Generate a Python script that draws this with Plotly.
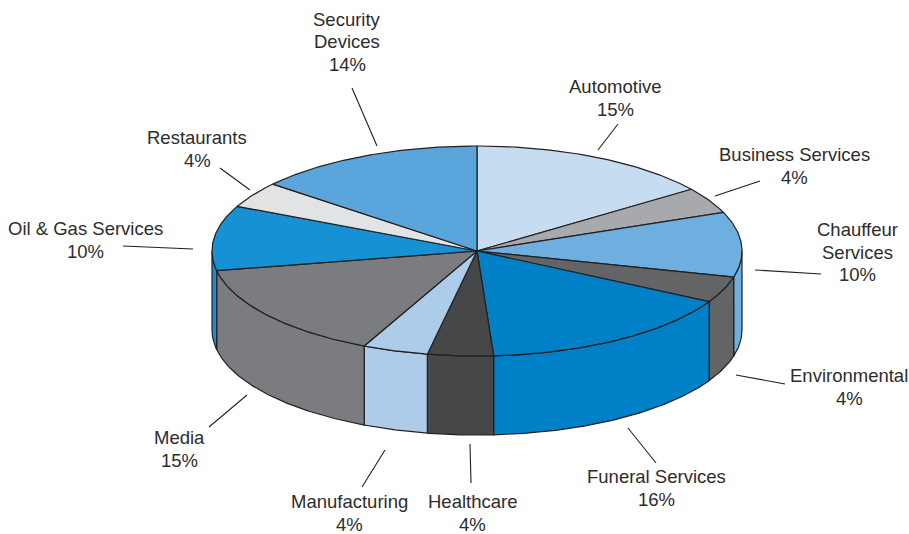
import numpy as np
import plotly.graph_objects as go

# Revenue share by sector, clockwise from twelve o'clock
sectors = ["Automotive", "Business Services", "Chauffeur<br>Services", "Environmental",
           "Funeral Services", "Healthcare", "Manufacturing", "Media",
           "Oil & Gas Services", "Restaurants", "Security<br>Devices"]
shares = [15, 4, 10, 4, 16, 4, 4, 15, 10, 4, 14]
colors = ["#c5dcf1", "#a7a9ac", "#6fafe0", "#636466", "#0080c6", "#464749",
          "#acccea", "#7a7c7f", "#1591d4", "#e1e3e5", "#5aa6dc"]

# Label anchors (centre of the text block) and leader line ends, in page pixels
label_xy = [(615, 98), (794, 166), (857, 252), (849, 387), (656, 488), (472, 513),
            (349, 513), (179, 449), (85, 240), (197, 149), (347, 41.5)]
leaders = [((598, 150), (618, 124)), ((715, 196), (760, 181)), ((755, 270), (821, 274)),
           ((736, 375), (785, 384)), ((628, 428), (656, 463)), ((470, 444), (471, 483)),
           ((385, 450), (362, 487)), ((247, 395), (209, 427)), ((193, 249), (123, 246)),
           ((250, 190), (220, 168)), ((377, 146), (352, 88))]

# Disc geometry: ellipse centre, radii and wall height
CX, CY, RX, RY, DEPTH = 477, 251, 265, 105, 79
INK = "#231f20"
LINE_PITCH = 22.5


def rim(a_deg, drop=0.0):
    """Rim points for clockwise angles measured from the top of the disc."""
    a = np.radians(a_deg)
    return CX + RX * np.sin(a), CY - RY * np.cos(a) + drop


def arc(start, end):
    return np.linspace(start, end, max(2, int(abs(end - start) * 2) + 1))


edges = np.concatenate([[0], np.cumsum(shares)]) * 3.6
fig = go.Figure()

# Side walls: only the part of each slice on the front half of the disc shows
for i, color in enumerate(colors):
    lo, hi = max(edges[i], 90), min(edges[i + 1], 270)
    if hi <= lo:
        continue
    a = arc(lo, hi)
    x1, y1 = rim(a)
    x2, y2 = rim(a[::-1], DEPTH)
    fig.add_trace(go.Scatter(
        x=np.r_[x1, x2, x1[0]], y=np.r_[y1, y2, y1[0]], mode="lines", fill="toself",
        fillcolor=color, line=dict(color=INK, width=1.2), hoverinfo="skip", showlegend=False))

# Top face
for i, color in enumerate(colors):
    x, y = rim(arc(edges[i], edges[i + 1]))
    fig.add_trace(go.Scatter(
        x=np.r_[CX, x, CX], y=np.r_[CY, y, CY], mode="lines", fill="toself",
        fillcolor=color, line=dict(color=INK, width=1.2),
        name=sectors[i].replace("<br>", " "), text=f"{shares[i]}%", hoverinfo="name+text",
        showlegend=False))

# Leader lines
lx, ly = [], []
for p, q in leaders:
    lx += [p[0], q[0], None]
    ly += [p[1], q[1], None]
fig.add_trace(go.Scatter(x=lx, y=ly, mode="lines", line=dict(color=INK, width=1.1),
                         hoverinfo="skip", showlegend=False))

# Each text row is its own annotation so the row pitch can be tighter than the default
for name, share, (x, y) in zip(sectors, shares, label_xy):
    rows = name.split("<br>") + [f"{share}%"]
    top = y - (len(rows) - 1) / 2 * LINE_PITCH
    for k, row in enumerate(rows):
        fig.add_annotation(x=x, y=top + k * LINE_PITCH, text=row, showarrow=False,
                           xanchor="center", yanchor="middle", align="center",
                           font=dict(family="Liberation Sans", size=18.5, color="#2d2c2d"))

fig.update_layout(
    width=909, height=534, margin=dict(l=0, r=0, t=0, b=0),
    paper_bgcolor="white", plot_bgcolor="white",
    xaxis=dict(range=[0, 909], visible=False, fixedrange=True),
    yaxis=dict(range=[534, 0], visible=False, fixedrange=True),
)
fig.write_html("out.html", config={"displayModeBar": False})
